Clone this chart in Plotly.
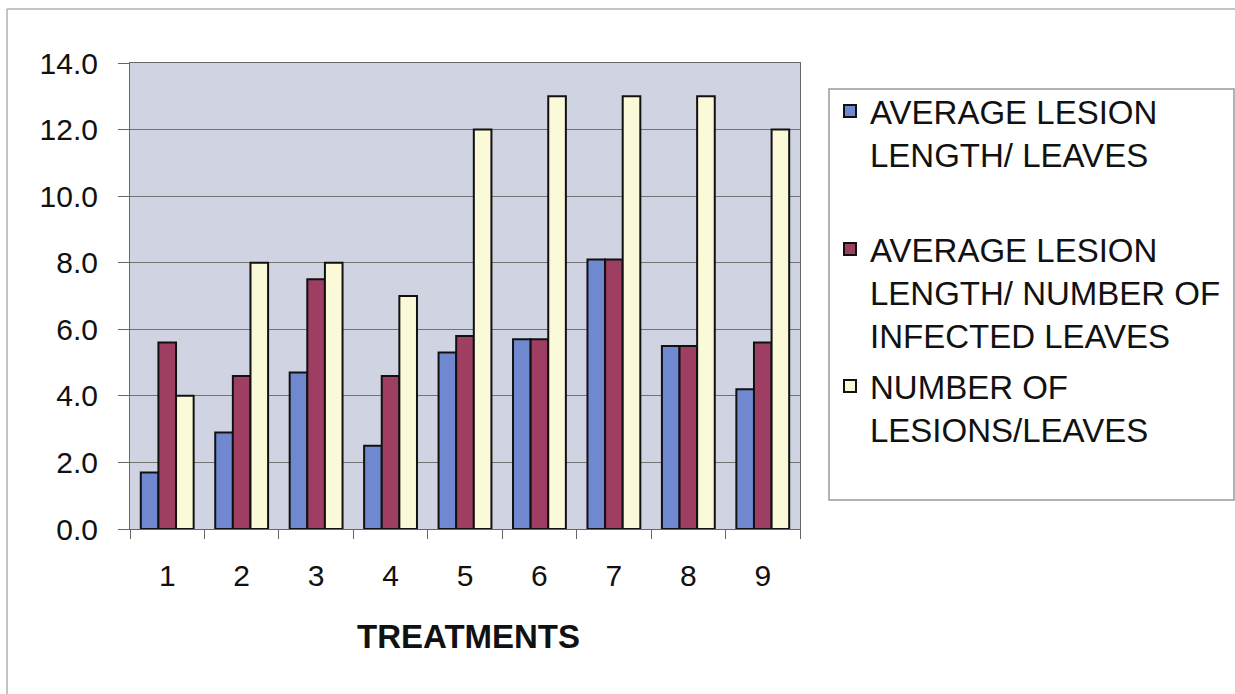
import plotly.graph_objects as go

# Treatment numbers and the three measured series
treatments = ["1", "2", "3", "4", "5", "6", "7", "8", "9"]
avg_lesion_per_leaf = [1.7, 2.9, 4.7, 2.5, 5.3, 5.7, 8.1, 5.5, 4.2]
avg_lesion_per_infected_leaf = [5.6, 4.6, 7.5, 4.6, 5.8, 5.7, 8.1, 5.5, 5.6]
lesions_per_leaf = [4.0, 8.0, 8.0, 7.0, 12.0, 13.0, 13.0, 13.0, 12.0]

series_names = [
    "AVERAGE LESION<br>LENGTH/ LEAVES",
    "AVERAGE LESION<br>LENGTH/ NUMBER OF<br>INFECTED LEAVES",
    "NUMBER OF<br>LESIONS/LEAVES",
]
series_colors = ["#6F88D0", "#9E3E62", "#FAFAD8"]

W, H = 1235, 694
L, R, T, B = 130, 800, 63, 529  # plot-area pixel bounds


def px_x(px):
    return (px - L) / (R - L)


def px_y(py):
    return (B - py) / (B - T)


FONT = "Arial, Liberation Sans, sans-serif"

fig = go.Figure()
series = [avg_lesion_per_leaf, avg_lesion_per_infected_leaf, lesions_per_leaf]
legend_ids = ["legend", "legend2", "legend3"]
for name, vals, col, lg in zip(series_names, series, series_colors, legend_ids):
    fig.add_trace(go.Bar(
        x=treatments, y=vals, name=name,
        marker=dict(color=col, line=dict(color="#111111", width=2)),
        legend=lg, showlegend=True, hoverinfo="x+y",
    ))

legend_common = dict(
    xanchor="left", yanchor="top", bgcolor="rgba(0,0,0,0)", borderwidth=0,
    font=dict(family=FONT, size=33, color="#111111"), valign="top",
    itemclick=False, itemdoubleclick=False, visible=True,
)

fig.update_layout(
    width=W, height=H,
    margin=dict(l=L, r=W - R, t=T, b=H - B, pad=0, autoexpand=False),
    paper_bgcolor="white",
    plot_bgcolor="#D0D4E2",
    barmode="group",
    bargap=0.29,
    bargroupgap=0,
    showlegend=True,
    font=dict(family=FONT, color="#111111"),
    legend=dict(x=px_x(830), y=px_y(83), **legend_common),
    legend2=dict(x=px_x(830), y=px_y(221), **legend_common),
    legend3=dict(x=px_x(830), y=px_y(358), **legend_common),
    xaxis=dict(
        type="category",
        tickson="boundaries",
        ticks="outside", ticklen=9, tickcolor="#666666", tickwidth=1,
        showline=True, linecolor="#666666", linewidth=1, mirror=True,
        showgrid=False,
        tickfont=dict(family=FONT, size=30, color="#111111"),
        ticklabelstandoff=20,
    ),
    yaxis=dict(
        range=[0, 14], dtick=2, tickformat=".1f",
        ticks="outside", ticklen=11, tickcolor="#666666", tickwidth=1,
        showline=True, linecolor="#666666", linewidth=1, mirror=True,
        showgrid=True, gridcolor="#737373", gridwidth=1,
        zeroline=False,
        tickfont=dict(family=FONT, size=30, color="#111111"),
        ticklabelstandoff=14,
    ),
    shapes=[
        # legend frame
        dict(type="rect", xref="paper", yref="paper",
             x0=px_x(829), x1=px_x(1234), y0=px_y(500), y1=px_y(89),
             line=dict(color="#9A9A9A", width=1.5), fillcolor="white", layer="below"),
        # outer chart frame (top and left edges)
        dict(type="line", xref="paper", yref="paper",
             x0=px_x(7), x1=px_x(1235), y0=px_y(9), y1=px_y(9),
             line=dict(color="#B0B0B0", width=1.5)),
        dict(type="line", xref="paper", yref="paper",
             x0=px_x(7), x1=px_x(7), y0=px_y(9), y1=px_y(694),
             line=dict(color="#B0B0B0", width=1.5)),
    ],
    annotations=[
        dict(text="<b>TREATMENTS</b>", xref="paper", yref="paper",
             x=px_x(468), y=px_y(636), xanchor="center", yanchor="middle",
             showarrow=False, font=dict(family=FONT, size=33, color="#111111")),
    ],
)

fig.write_html("out.html")
